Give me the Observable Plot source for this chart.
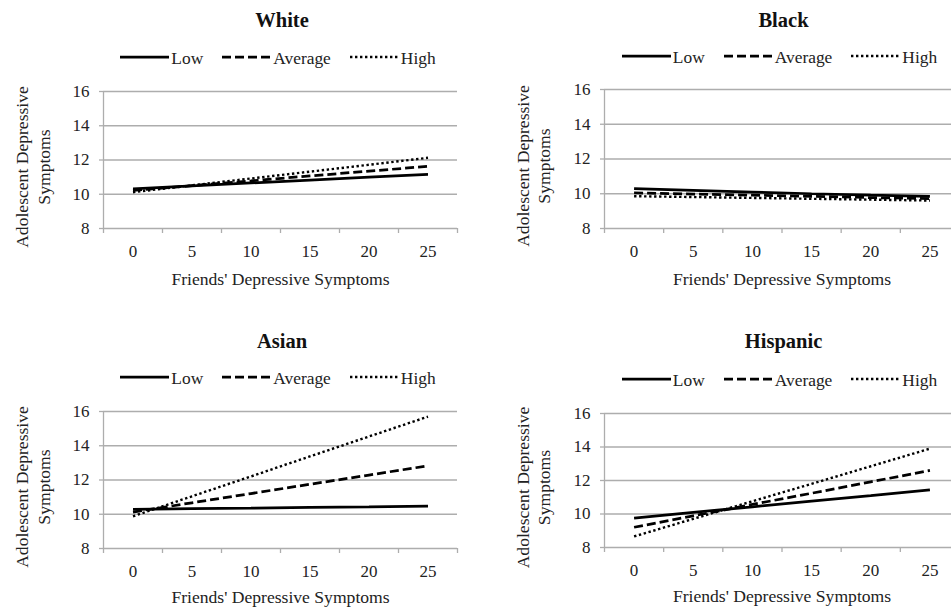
<!DOCTYPE html>
<html>
<head>
<meta charset="utf-8">
<script src="https://cdn.jsdelivr.net/npm/d3@7"></script>
<script src="https://cdn.jsdelivr.net/npm/@observablehq/plot@0.6"></script>
<style>
  html, body { margin: 0; padding: 0; background: #fff; font-family: 'Liberation Serif', serif; }
  #root { position: relative; width: 951px; height: 607px; overflow: hidden; background: #fff; font-family: 'Liberation Serif', serif; color: #222; }
  .panel { position: absolute; }
  .panel svg.plot { position: absolute; }
  .title { position: absolute; text-align: center; font-weight: bold; font-size: 20.5px; line-height: 24px; color: #111; }
  .legend { position: absolute; display: flex; justify-content: center; align-items: center; font-size: 17.4px; line-height: 20px; height: 20px; gap: 19px; white-space: nowrap; }
  .legend .item { display: flex; align-items: center; }
  .legend .item svg { margin-right: 2px; }
</style>
</head>
<body>
<div id="root"></div>
<script>
// ---- data ----
const categories = [0, 5, 10, 15, 20, 25];
const levels = ["Low", "Average", "High"];
const yTicks = [8, 10, 12, 14, 16];
const groups = ["White", "Black", "Asian", "Hispanic"];
const xTitle = "Friends' Depressive Symptoms";
const yTitle = "Adolescent Depressive\nSymptoms";

const whiteLow     = [10.32, 10.49, 10.66, 10.83, 11.00, 11.16];
const whiteAverage = [10.22, 10.50, 10.78, 11.07, 11.35, 11.63];
const whiteHigh    = [10.12, 10.52, 10.92, 11.32, 11.72, 12.13];

const blackLow     = [10.30, 10.20, 10.10, 10.00, 9.92, 9.85];
const blackAverage = [10.05, 9.98, 9.92, 9.85, 9.78, 9.72];
const blackHigh    = [9.86, 9.81, 9.76, 9.71, 9.66, 9.61];

const asianLow     = [10.29, 10.33, 10.36, 10.40, 10.43, 10.47];
const asianAverage = [10.13, 10.67, 11.21, 11.75, 12.29, 12.83];
const asianHigh    = [9.88, 11.05, 12.21, 13.38, 14.54, 15.70];

const hispanicLow     = [9.76, 10.10, 10.43, 10.77, 11.10, 11.44];
const hispanicAverage = [9.21, 9.89, 10.57, 11.24, 11.92, 12.60];
const hispanicHigh    = [8.66, 9.71, 10.76, 11.80, 12.85, 13.90];

const seriesByGroup = [
  [whiteLow, whiteAverage, whiteHigh],
  [blackLow, blackAverage, blackHigh],
  [asianLow, asianAverage, asianHigh],
  [hispanicLow, hispanicAverage, hispanicHigh]
];

// ---- styling ----
const FONT = "'Liberation Serif', serif";
const gridColor = "#adadad";
const lineColor = "#000";
const dashes = [null, "9,4", "2.4,2.6"];
const widths = [2.75, 2.75, 2.4];

const layout = [
  {left: 0,   svgTop: 70,  w: 475, h: 230, ml: 103, mr: 18, mt: 21, mb: 72, titleY: 20,  legendY: 58,  xTitleDy: 51, ytdx: -71.5, ytdy: 7},
  {left: 475, svgTop: 70,  w: 500, h: 230, ml: 129, mr: 16, mt: 19, mb: 72, titleY: 20,  legendY: 57,  xTitleDy: 51, ytdx: -72, ytdy: 7},
  {left: 0,   svgTop: 390, w: 475, h: 217, ml: 103, mr: 18, mt: 21, mb: 59, titleY: 341, legendY: 378, xTitleDy: 49, ytdx: -71.5, ytdy: 7},
  {left: 475, svgTop: 390, w: 500, h: 217, ml: 129, mr: 16, mt: 23, mb: 60, titleY: 341, legendY: 380, xTitleDy: 49, ytdx: -72, ytdy: 7}
];

const root = document.getElementById("root");
const step = categories[1] - categories[0];
const lo = categories[0] - step / 2;
const hi = categories[categories.length - 1] + step / 2;
const bounds = d3.range(categories.length + 1).map(i => lo + i * step);

function legendSample(i) {
  const ns = "http://www.w3.org/2000/svg";
  const s = document.createElementNS(ns, "svg");
  s.setAttribute("width", 49); s.setAttribute("height", 8);
  const l = document.createElementNS(ns, "line");
  l.setAttribute("x1", 0); l.setAttribute("x2", 49);
  l.setAttribute("y1", 3); l.setAttribute("y2", 3);
  l.setAttribute("stroke", lineColor);
  l.setAttribute("stroke-width", widths[i]);
  l.setAttribute("stroke-linecap", "butt");
  if (dashes[i]) l.setAttribute("stroke-dasharray", dashes[i]);
  s.appendChild(l);
  return s;
}

groups.forEach((g, gi) => {
  const L = layout[gi];
  const rows = [];
  levels.forEach((lv, li) => seriesByGroup[gi][li].forEach((v, j) => rows.push({x: categories[j], y: v, level: lv})));

  const panel = document.createElement("div");
  panel.className = "panel";
  panel.style.left = L.left + "px";
  panel.style.top = "0px";
  panel.style.width = L.w + "px";
  panel.style.height = "607px";
  panel.style.fontFamily = FONT;

  const plotCenter = L.ml + (L.w - L.ml - L.mr) / 2;

  const title = document.createElement("div");
  title.className = "title";
  title.textContent = g;
  title.style.fontFamily = FONT;
  title.style.left = (plotCenter + 2 - 100) + "px";
  title.style.width = "200px";
  title.style.top = (L.titleY - 12) + "px";
  panel.appendChild(title);

  const legend = document.createElement("div");
  legend.className = "legend";
  legend.style.fontFamily = FONT;
  legend.style.left = (plotCenter - 2 - 200) + "px";
  legend.style.width = "400px";
  legend.style.top = (L.legendY - 10) + "px";
  levels.forEach((lv, li) => {
    const it = document.createElement("div");
    it.className = "item";
    it.appendChild(legendSample(li));
    const sp = document.createElement("span");
    sp.textContent = lv;
    sp.style.fontFamily = FONT;
    it.appendChild(sp);
    legend.appendChild(it);
  });
  panel.appendChild(legend);

  const chart = Plot.plot({
    width: L.w, height: L.h,
    marginLeft: L.ml, marginRight: L.mr, marginTop: L.mt, marginBottom: L.mb,
    x: {domain: [lo, hi]},
    y: {domain: [yTicks[0], yTicks[yTicks.length - 1]]},
    style: {fontFamily: FONT, fontSize: "17px", color: "#222", background: "transparent", overflow: "visible"},
    marks: [
      Plot.ruleY(yTicks, {stroke: gridColor, strokeWidth: 1.3}),
      Plot.ruleX([lo], {stroke: gridColor, strokeWidth: 1.3}),
      Plot.axisY({ticks: yTicks, tickSize: 4, tickPadding: 10, stroke: gridColor, strokeWidth: 1.3, fill: "#222", label: null, fontFamily: FONT}),
      Plot.axisX({ticks: bounds, tickSize: 5, tickFormat: () => "", stroke: gridColor, strokeWidth: 1.3, label: null}),
      Plot.axisX({ticks: categories, tickSize: 0, tickPadding: 16, fill: "#222", label: null, fontFamily: FONT}),
      ...levels.map((lv, li) => Plot.line(rows.filter(r => r.level === lv), {
        x: "x", y: "y", stroke: lineColor, strokeWidth: widths[li],
        strokeDasharray: dashes[li] || undefined, strokeLinecap: "butt", strokeLinejoin: "miter"
      })),
      Plot.text([xTitle], {text: d => d, frameAnchor: "bottom", lineAnchor: "middle", textAnchor: "middle",
        dy: L.xTitleDy, fill: "#222", fontFamily: FONT, fontSize: 17.6}),
      Plot.text([yTitle], {text: d => d, frameAnchor: "left", rotate: -90, textAnchor: "middle", lineAnchor: "middle",
        dx: L.ytdx, dy: L.ytdy, fill: "#222", lineHeight: 1.22, fontFamily: FONT, fontSize: 17.6})
    ]
  });
  chart.classList.add("plot");
  chart.style.position = "absolute";
  chart.style.left = "0px";
  chart.style.top = L.svgTop + "px";
  chart.style.fontFamily = FONT;
  panel.appendChild(chart);
  root.appendChild(panel);
});
</script>
</body>
</html>
